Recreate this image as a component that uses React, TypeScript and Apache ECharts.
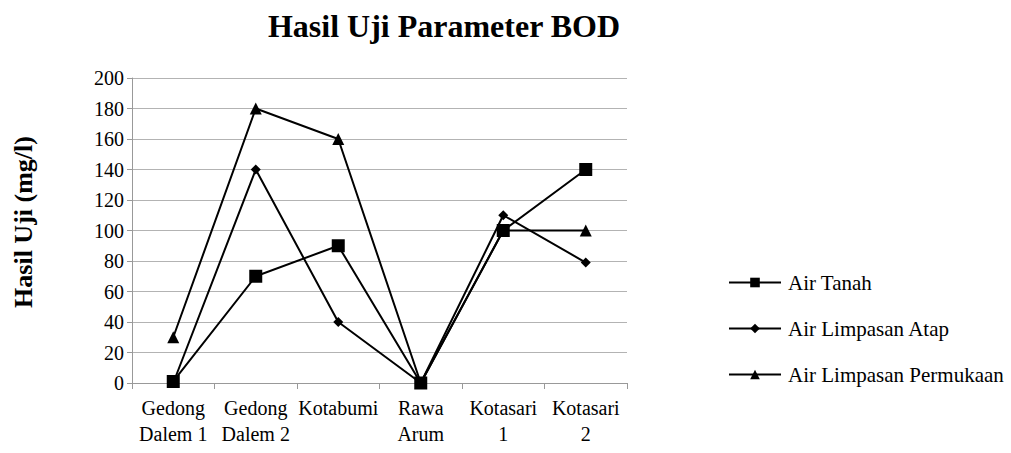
import React, { useEffect, useRef } from "react";
import * as echarts from "echarts";

const categories = ["Gedong\nDalem 1", "Gedong\nDalem 2", "Kotabumi", "Rawa\nArum", "Kotasari\n1", "Kotasari\n2"];
const airTanah = [1, 70, 90, 0, 100, 140];
const airLimpasanAtap = [0, 140, 40, 0, 110, 79];
const airLimpasanPermukaan = [30, 180, 160, 0, 100, 100];
const seriesNames = ["Air Tanah", "Air Limpasan Atap", "Air Limpasan Permukaan"];

const FONT = "'Liberation Serif', 'Times New Roman', serif";

export default function App() {
  const ref = useRef<HTMLDivElement>(null);
  useEffect(() => {
    const chart = echarts.init(ref.current!, null, { renderer: "svg" });
    const mk = (name: string, data: number[], symbol: string, size: number) => ({
      name,
      type: "line",
      data,
      symbol,
      symbolSize: size,
      showAllSymbol: true,
      lineStyle: { color: "#000", width: 2 },
      itemStyle: { color: "#000", borderWidth: 0 },
    });
    chart.setOption({
      animation: false,
      backgroundColor: "#fff",
      title: {
        text: "Hasil Uji Parameter BOD",
        left: 439,
        top: 5,
        textAlign: "center",
        textStyle: { fontFamily: FONT, fontSize: 32, fontWeight: "bold", color: "#000" },
      },
      grid: { left: 132, right: 384, top: 78, bottom: 70, containLabel: false },
      legend: {
        orient: "vertical",
        left: 723,
        top: 267,
        itemWidth: 52,
        itemHeight: 12,
        itemGap: 25,
        textStyle: { fontFamily: FONT, fontSize: 21, color: "#000", padding: [0, 0, 0, 2] },
        data: seriesNames,
      },
      xAxis: {
        type: "category",
        data: categories,
        boundaryGap: true,
        axisLine: { lineStyle: { color: "#999", width: 1 } },
        axisTick: { show: true, length: 6, lineStyle: { color: "#999" } },
        axisLabel: { interval: 0, fontFamily: FONT, fontSize: 20, color: "#000", lineHeight: 26, margin: 12 },
        splitLine: { show: false },
      },
      yAxis: {
        type: "value",
        min: 0,
        max: 200,
        interval: 20,
        axisLine: { show: true, lineStyle: { color: "#999", width: 1 } },
        axisTick: { show: true, length: 5, lineStyle: { color: "#999" } },
        axisLabel: { fontFamily: FONT, fontSize: 20, color: "#000", margin: 8 },
        splitLine: { lineStyle: { color: "#b3b3b3", width: 1 } },
      },
      graphic: [
        {
          type: "text",
          x: 23,
          y: 222,
          rotation: Math.PI / 2,
          style: {
            text: "Hasil Uji (mg/l)",
            fontFamily: FONT,
            fontSize: 26,
            fontWeight: "bold",
            fill: "#000",
            textAlign: "center",
            textVerticalAlign: "middle",
          },
        },
      ],
      series: [
        mk(seriesNames[0], airTanah, "rect", 13),
        mk(seriesNames[1], airLimpasanAtap, "diamond", 10),
        mk(seriesNames[2], airLimpasanPermukaan, "triangle", 12),
      ],
    });
    return () => chart.dispose();
  }, []);
  return <div ref={ref} style={{ position: "fixed", left: 0, top: 0, width: 1011, height: 453 }} />;
}
